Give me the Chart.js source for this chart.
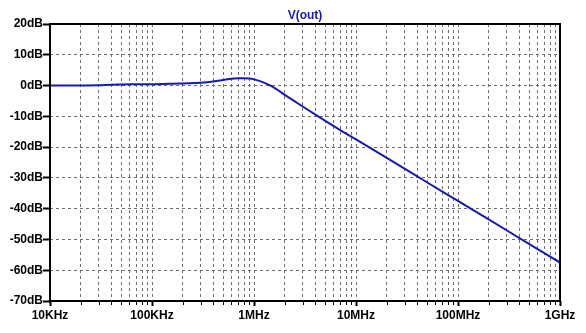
<!DOCTYPE html>
<html>
<head>
<meta charset="utf-8">
<script src="https://cdn.jsdelivr.net/npm/chart.js@4/dist/chart.umd.min.js"></script>
<style>
  html, body { margin: 0; padding: 0; background: #ffffff; }
  canvas { display: block; }
</style>
</head>
<body>
<canvas id="c" width="586" height="333"></canvas>
<script>
// ---- data ----
const seriesName = "V(out)";
const freqHz = [1e4, 2e4, 3e4, 4e4, 5e4, 7e4, 1e5, 1.5e5, 2e5, 3e5, 4e5, 5e5, 6e5, 7e5, 8e5, 9e5,
                1e6, 1.2e6, 1.5e6, 2e6, 3e6, 5e6, 7e6, 1e7, 2e7, 5e7, 1e8, 2e8, 5e8, 1e9];
const voutDb = [0.0, 0.05, 0.1, 0.3, 0.35, 0.4, 0.45, 0.55, 0.7, 0.9, 1.3, 1.8, 2.2, 2.35, 2.4, 2.3,
                2.0, 1.2, -0.3, -3.0, -6.8, -11.5, -14.5, -17.5, -23.5, -31.5, -37.5, -43.5, -51.5, -57.5];
const xTickValues = [1e4, 1e5, 1e6, 1e7, 1e8, 1e9];
const xTickLabels = ["10KHz", "100KHz", "1MHz", "10MHz", "100MHz", "1GHz"];
const yTickValues = [20, 10, 0, -10, -20, -30, -40, -50, -60, -70];

const FONT = { family: "'Liberation Sans', Arial, sans-serif", size: 12, weight: 'bold' };
const BLUE = '#1818b4';

function isMajor(v) {
  return xTickValues.some(m => Math.abs(v / m - 1) < 1e-9);
}

const framePlugin = {
  id: 'frame',
  afterDraw(chart) {
    const ctx = chart.ctx;
    const a = chart.chartArea;
    const xs = chart.scales.x;
    ctx.save();
    // x tick marks
    ctx.strokeStyle = '#000';
    xs.ticks.forEach(t => {
      const px = Math.round(xs.getPixelForValue(t.value)) + 0.5;
      const major = isMajor(t.value);
      ctx.lineWidth = major ? 2 : 1;
      ctx.beginPath();
      ctx.moveTo(px, a.bottom);
      ctx.lineTo(px, a.bottom + (major ? 5 : 4));
      ctx.stroke();
    });
    // frame
    ctx.lineWidth = 2;
    ctx.strokeStyle = '#000';
    ctx.strokeRect(a.left, a.top, a.right - a.left, a.bottom - a.top);
    // title
    ctx.fillStyle = BLUE;
    ctx.font = "bold 12px 'Liberation Sans', Arial, sans-serif";
    ctx.textAlign = 'center';
    ctx.textBaseline = 'middle';
    ctx.fillText(seriesName, (a.left + a.right) / 2, 16);
    ctx.restore();
  }
};

new Chart(document.getElementById('c'), {
  type: 'line',
  data: {
    datasets: [{
      label: seriesName,
      data: freqHz.map((f, i) => ({ x: f, y: voutDb[i] })),
      borderColor: BLUE,
      borderWidth: 2,
      pointRadius: 0,
      cubicInterpolationMode: 'monotone',
      fill: false
    }]
  },
  options: {
    responsive: false,
    animation: false,
    layout: { padding: { top: 24, right: 26, left: 0, bottom: 0 } },
    plugins: { legend: { display: false }, title: { display: false }, tooltip: { enabled: false } },
    scales: {
      x: {
        type: 'logarithmic',
        min: 1e4,
        max: 1e9,
        afterBuildTicks(scale) {
          const ticks = [];
          for (let e = 4; e <= 9; e++) {
            for (let m = 1; m <= 9; m++) {
              const v = m * Math.pow(10, e);
              if (v > 1e9 * 1.0000001) break;
              ticks.push({ value: v });
            }
          }
          scale.ticks = ticks;
        },
        afterFit(scale) { scale.height = 32; },
        grid: { color: '#6e6e6e', lineWidth: 1, drawTicks: false },
        border: { display: false, dash: [3, 3] },
        ticks: {
          autoSkip: false,
          maxRotation: 0,
          padding: 7,
          color: '#000',
          font: FONT,
          callback(v) {
            const i = xTickValues.findIndex(m => Math.abs(v / m - 1) < 1e-9);
            return i >= 0 ? xTickLabels[i] : '';
          }
        }
      },
      y: {
        type: 'linear',
        min: -70,
        max: 20,
        afterBuildTicks(scale) {
          scale.ticks = yTickValues.map(v => ({ value: v }));
        },
        afterFit(scale) { scale.width = 50; },
        grid: { color: '#6e6e6e', lineWidth: 1, drawTicks: true, tickLength: 7, tickColor: '#000', tickWidth: 2 },
        border: { display: false, dash: [3, 3] },
        ticks: {
          padding: 0,
          color: '#000',
          font: FONT,
          callback(v) { return v + 'dB'; }
        }
      }
    }
  },
  plugins: [framePlugin]
});
</script>
</body>
</html>
